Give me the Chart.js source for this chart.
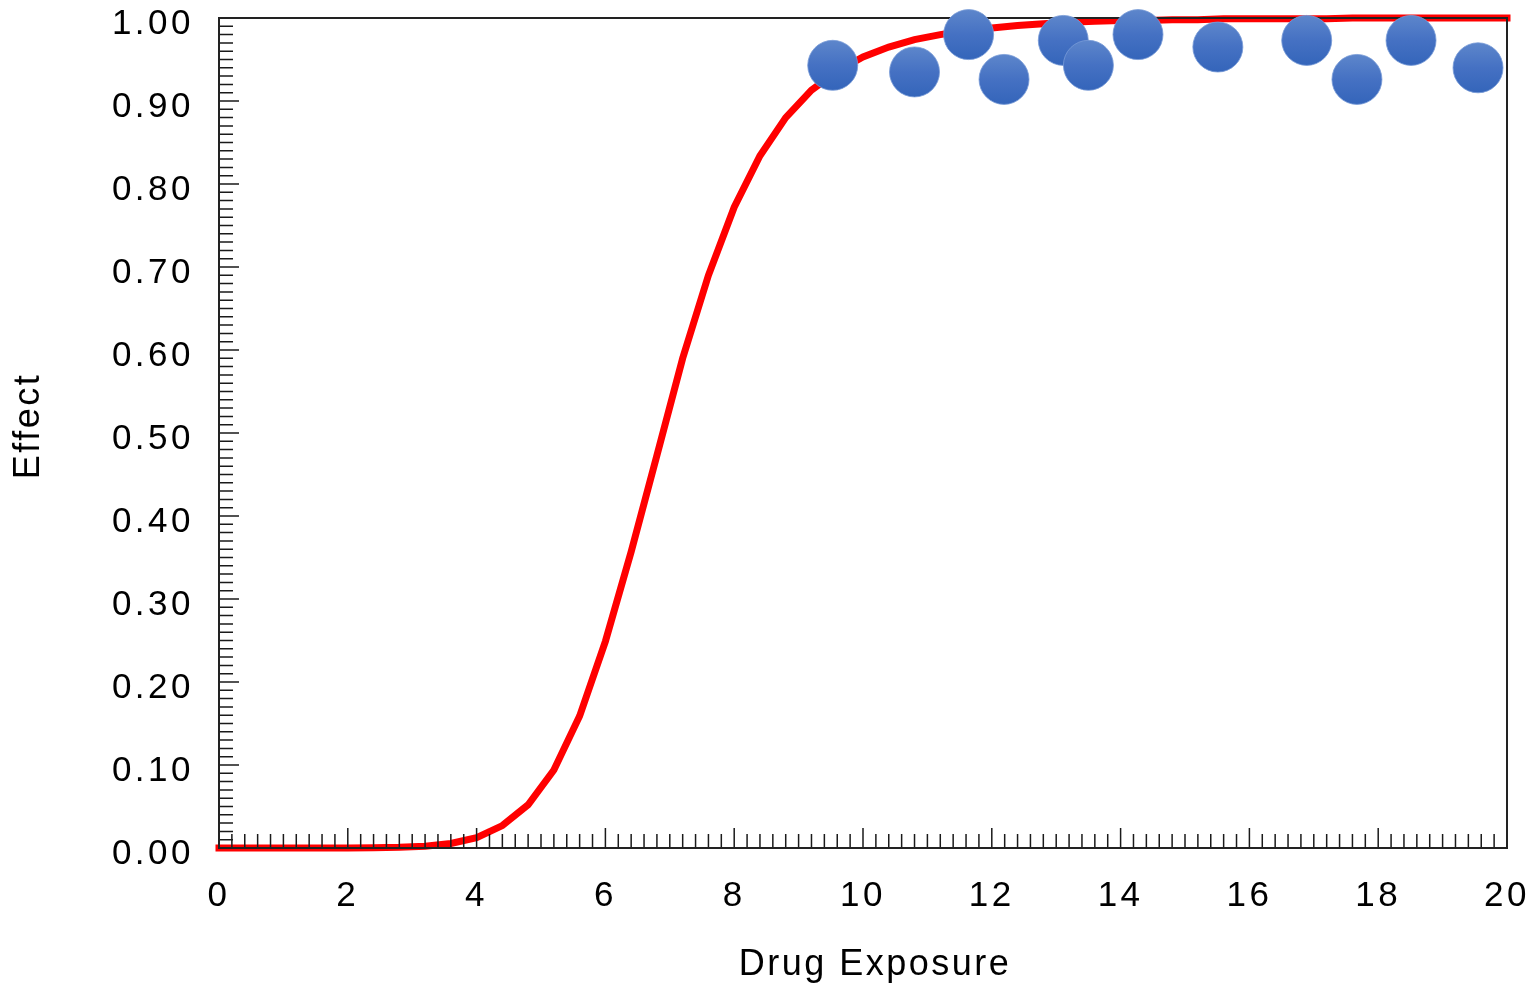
<!DOCTYPE html>
<html>
<head>
<meta charset="utf-8">
<script src="https://cdn.jsdelivr.net/npm/chart.js@4"></script>
<style>
  html, body { margin: 0; padding: 0; background: #fff; }
  canvas { display: block; }
</style>
</head>
<body>
<canvas id="chart" width="1534" height="984"></canvas>
<script>
// ── DATA ──────────────────────────────────────────────────────────────────
const CURVE_X = [0, 0.4, 0.8, 1.2, 1.6, 2.0, 2.4, 2.8, 3.2, 3.6, 4.0, 4.4, 4.8, 5.2, 5.6, 6.0,
  6.4, 6.8, 7.2, 7.6, 8.0, 8.4, 8.8, 9.2, 9.6, 10.0, 10.4, 10.8, 11.2, 11.6, 12.0, 12.4,
  12.8, 13.2, 13.6, 14.0, 14.4, 14.8, 15.2, 15.6, 16.0, 16.4, 16.8, 17.2, 17.6, 18.0,
  18.4, 18.8, 19.2, 19.6, 20.0];
const CURVE_Y = [0, 0, 0, 0, 0, 0.0001, 0.0002, 0.0008, 0.0022, 0.0055, 0.0125, 0.027, 0.052,
  0.094, 0.159, 0.249, 0.357, 0.473, 0.590, 0.690, 0.772, 0.834, 0.880, 0.913, 0.936,
  0.953, 0.965, 0.974, 0.980, 0.985, 0.988, 0.991, 0.993, 0.995, 0.996, 0.997, 0.997,
  0.998, 0.998, 0.999, 0.999, 0.999, 0.999, 0.999, 1.0, 1.0, 1.0, 1.0, 1.0, 1.0, 1.0];

const OBS_X = [9.53, 10.80, 11.64, 12.19, 13.11, 13.50, 14.27, 15.51, 16.89, 17.67, 18.51, 19.55];
const OBS_Y = [0.943, 0.935, 0.980, 0.926, 0.973, 0.943, 0.980, 0.965, 0.973, 0.926, 0.973, 0.940];

const X_MIN = 0, X_MAX = 20, X_STEP = 2, X_MINOR = 0.2;
const Y_MIN = 0, Y_MAX = 1, Y_STEP = 0.1, Y_MINOR = 0.01;

const FONT = "'Liberation Sans', Arial, sans-serif";

// ── FRAME + INWARD TICKS (drawn between the curve and the points) ────────
const frameTicks = {
  id: 'frameTicks',
  afterDatasetDraw(chart, args) {
    if (args.meta.type !== 'line') return;
    const { ctx, chartArea: a, scales: { x, y } } = chart;
    ctx.save();
    ctx.strokeStyle = '#1a1a1a';
    ctx.lineWidth = 1.5;
    ctx.beginPath();
    const ny = Math.round((Y_MAX - Y_MIN) / Y_MINOR);
    for (let i = 0; i <= ny; i++) {
      const py = y.getPixelForValue(Y_MIN + i * Y_MINOR);
      const len = i % Math.round(Y_STEP / Y_MINOR) === 0 ? 20 : 14;
      ctx.moveTo(a.left, py); ctx.lineTo(a.left + len, py);
    }
    const nx = Math.round((X_MAX - X_MIN) / X_MINOR);
    for (let i = 0; i <= nx; i++) {
      const px = x.getPixelForValue(X_MIN + i * X_MINOR);
      const len = i % Math.round(X_STEP / X_MINOR) === 0 ? 20 : 14;
      ctx.moveTo(px, a.bottom); ctx.lineTo(px, a.bottom - len);
    }
    ctx.stroke();
    ctx.lineWidth = 2;
    ctx.strokeStyle = '#222';
    ctx.strokeRect(a.left, a.top, a.right - a.left, a.bottom - a.top);
    ctx.restore();
  }
};

// letter spacing (wider on tick labels) + small nudge of the axis titles
const TICK_SPACING = '3.5px', TITLE_SPACING = '2.5px';
const TITLE_SHIFT = { x: [12, 0], y: [0, -7] };
const spacing = {
  id: 'spacing',
  beforeUpdate(chart) { chart.ctx.letterSpacing = TICK_SPACING; },
  beforeDraw(chart) {
    const ctx = chart.ctx;
    ctx.letterSpacing = TICK_SPACING;
    Object.entries(chart.scales).forEach(([id, s]) => {
      if (s._spacedTitle) return;
      const orig = s.drawTitle.bind(s);
      const [dx, dy] = TITLE_SHIFT[id] || [0, 0];
      s.drawTitle = function () {
        ctx.save();
        ctx.letterSpacing = TITLE_SPACING;
        ctx.translate(dx, dy);
        orig();
        ctx.restore();
      };
      s._spacedTitle = true;
    });
  }
};

// ── CHART ─────────────────────────────────────────────────────────────────
new Chart(document.getElementById('chart'), {
  type: 'scatter',
  data: {
    datasets: [
      {
        type: 'line',
        data: CURVE_X.map((v, i) => ({ x: v, y: CURVE_Y[i] })),
        borderColor: '#FF0000',
        borderWidth: 7,
        borderCapStyle: 'square',
        borderJoinStyle: 'miter',
        pointRadius: 0,
        tension: 0,
        fill: false,
        clip: false,
        order: 2,
      },
      {
        type: 'scatter',
        data: OBS_X.map((v, i) => ({ x: v, y: OBS_Y[i] })),
        pointRadius: 25,
        borderWidth: 1,
        borderColor: 'rgba(120,155,215,0.8)',
        backgroundColor: ctx => {
          const chart = ctx.chart;
          if (!ctx.parsed || !chart.chartArea) return '#4472C4';
          const py = chart.scales.y.getPixelForValue(ctx.parsed.y);
          const g = chart.ctx.createLinearGradient(0, py - 25, 0, py + 25);
          g.addColorStop(0, '#5D86CB');
          g.addColorStop(0.5, '#4571C3');
          g.addColorStop(1, '#3465BA');
          return g;
        },
        clip: false,
        order: 1,
      }
    ]
  },
  options: {
    responsive: false,
    animation: false,
    events: [],
    layout: { autoPadding: false, padding: { left: 0, right: 27, top: 18, bottom: 0 } },
    plugins: { legend: { display: false }, tooltip: { enabled: false } },
    scales: {
      x: {
        type: 'linear', min: X_MIN, max: X_MAX,
        grid: { display: false, drawTicks: false },
        border: { display: false },
        ticks: {
          stepSize: X_STEP, autoSkip: false, padding: 31, maxRotation: 0,
          color: '#000', font: { family: FONT, size: 35, lineHeight: 1.0 },
        },
        title: {
          display: true, text: 'Drug Exposure', color: '#000',
          font: { family: FONT, size: 36, lineHeight: 1.05 },
          padding: { top: 0, bottom: 0 },
        },
        afterFit: s => { s.height = 136; s.paddingLeft = 0; s.paddingRight = 0; },
      },
      y: {
        type: 'linear', min: Y_MIN, max: Y_MAX,
        grid: { display: false, drawTicks: false },
        border: { display: false },
        ticks: {
          stepSize: Y_STEP, autoSkip: false, padding: 25, labelOffset: 6,
          color: '#000', font: { family: FONT, size: 35, lineHeight: 1.0 },
          callback: v => v.toFixed(2),
        },
        title: {
          display: true, text: 'Effect', color: '#000',
          font: { family: FONT, size: 36, lineHeight: 1.2 },
          padding: { top: 7, bottom: 0 },
        },
        afterFit: s => { s.width = 219; s.paddingTop = 0; s.paddingBottom = 0; },
      }
    }
  },
  plugins: [spacing, frameTicks]
});
</script>
</body>
</html>
